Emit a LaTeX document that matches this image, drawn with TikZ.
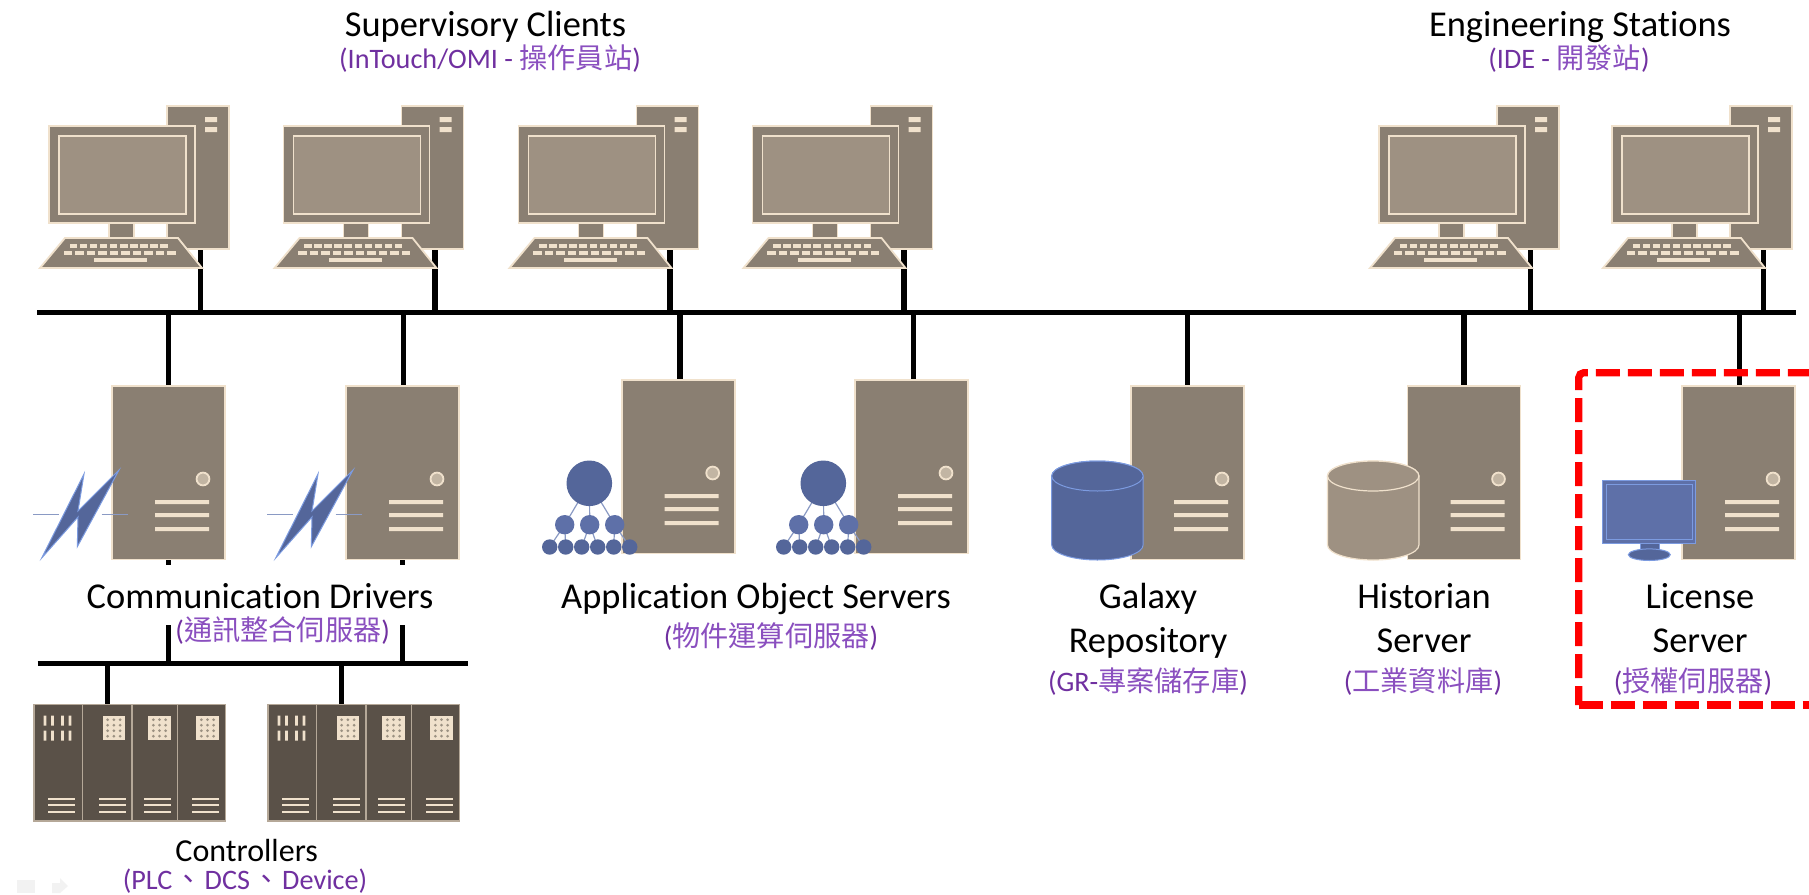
\documentclass[tikz,border=0pt]{standalone}
\usepackage{fontspec}
\setmainfont{Carlito}[Ligatures=NoCommon]
\newfontfamily\cjkf{Noto Sans CJK TC}
\usetikzlibrary{backgrounds}
\definecolor{towerc}{HTML}{8A7F72}
\definecolor{screenc}{HTML}{9E9182}
\definecolor{edgec}{HTML}{F0E1CC}
\definecolor{knobc}{HTML}{C2B5A3}
\definecolor{bluec}{HTML}{54669A}
\definecolor{bluemid}{HTML}{5E70A8}
\definecolor{blueedge}{HTML}{7C9BE0}
\definecolor{treeline}{HTML}{8A9AC4}
\definecolor{rackc}{HTML}{5A5148}
\definecolor{rackedge}{HTML}{B5A898}
\definecolor{purp}{HTML}{7030A0}
\definecolor{cjkp}{HTML}{8A4FBF}
\tikzset{
  x=0.5pt,y=-0.5pt,
  wire/.style={line width=2.6pt,black},
  towerbox/.style={draw=edgec,fill=towerc,line width=0.9pt,inner sep=0,outer sep=0,anchor=north west},
  screenbox/.style={draw=edgec,fill=screenc,line width=0.9pt,inner sep=0,outer sep=0,anchor=north west},
  slat/.style={fill=edgec,draw=none},
  rackmod/.style={draw=rackedge,fill=rackc,line width=0.6pt,inner sep=0,outer sep=0,anchor=north west},
  lbl/.style={font=\fontsize{18.2}{22}\selectfont,anchor=base,inner sep=0,text=black},
  lblsmall/.style={font=\fontsize{16}{19}\selectfont,anchor=base,inner sep=0,text=black},
  sub/.style={font=\fontsize{14.1}{17}\selectfont,anchor=base,inner sep=0,text=purp},
  blueshape/.style={fill=bluec,draw=blueedge,line width=0.5pt},
  tanshape/.style={fill=screenc,draw=edgec,line width=0.6pt},
  redbox/.style={red,line width=3.6pt,rounded corners=2.5pt},
}
\newcommand{\cjk}[1]{\textcolor{cjkp}{\cjkf #1}}
% computer: name, horizontal offset
\newcommand{\computer}[2]{%
  \begin{scope}[shift={(#2,0)}]
    \node[towerbox,minimum width=31pt,minimum height=71.5pt] (#1) at (167,106) {};
    \fill[slat] (205,117) rectangle (217,122) (205,127) rectangle (217,132);
    \fill[towerc,draw=edgec,line width=0.9pt] (109,223) rectangle (134,238);
    \node[towerbox,minimum width=73pt,minimum height=48.5pt] (#1mon) at (49,126) {};
    \node[screenbox,minimum width=63.5pt,minimum height=39pt] (#1scr) at (59,136) {};
    \draw[fill=towerc,draw=edgec,line width=0.9pt] (65,238) -- (178,238) -- (202,268) -- (40,268) -- cycle;
    \foreach \i in {0,...,9} {
      \fill[slat] ({69.5+10.1*\i},243.5) rectangle +(7.5,4.5);
      \fill[slat] ({63.5+11.5*\i},251) rectangle +(8.5,4);
    }
    \fill[slat] (94,258) rectangle (147,262);
  \end{scope}}
% server: name, left, top
\newcommand{\server}[3]{%
  \node[towerbox,minimum width=56.5pt,minimum height=86.75pt] (#1) at (#2,#3) {};
  \begin{scope}[shift={(#2,#3)}]
    \fill[knobc,draw=edgec,line width=0.9pt] (91,93) circle[radius=3.2pt];
    \fill[slat] (43,114) rectangle (97,118) (43,127) rectangle (97,131) (43,141) rectangle (97,145);
  \end{scope}}
% rack: name, left
\newcommand{\rack}[2]{%
  \node[rackmod,minimum width=24.4pt,minimum height=58.3pt] (#1a) at (#2,704.3) {};
  \node[rackmod,minimum width=24.6pt,minimum height=58.3pt] (#1b) at (#2+48.8,704.3) {};
  \node[rackmod,minimum width=22.8pt,minimum height=58.3pt] (#1c) at (#2+98,704.3) {};
  \node[rackmod,minimum width=24pt,minimum height=58.3pt] (#1d) at (#2+143.7,704.3) {};
  \begin{scope}[shift={(#2,0)}]
    \foreach \bx in {9.5,17,27,34.5}
      \fill[slat] (\bx,715.7) rectangle +(2.8,10) (\bx,730.7) rectangle +(2.8,10);
    \foreach \gx in {68.7,114.3,162.3} {
      \fill[edgec] (\gx,715.7) rectangle +(22.3,24.7);
      \foreach \ci in {0,1,2} \foreach \cj in {0,1,2,3}
        \fill[knobc!80!black] ({\gx+5+6.2*\ci},{719.7+5.5*\cj}) circle[radius=0.75pt];
    }
    \foreach \lx in {14.3,65.3,110.3,158.3} {
      \fill[slat] (\lx,798) rectangle +(26.5,2);
      \fill[slat] (\lx,804.2) rectangle +(26.5,2);
      \fill[slat] (\lx,810.5) rectangle +(26.5,2);
    }
  \end{scope}}
% lightning: left offset
\newcommand{\bolt}[1]{%
  \begin{scope}[shift={(#1,0)}]
    \draw[treeline,line width=0.6pt] (33.3,514.3) -- (59.3,514.3) (101.7,514.3) -- (127.7,514.3);
    \draw[blueshape] (41.7,558) -- (84,474) -- (78,511) -- (119,470) -- (77.3,546.7) -- (78,517) -- cycle;
  \end{scope}}
% object tree: left offset
\newcommand{\objtree}[1]{%
  \begin{scope}[shift={(#1,0)}]
    \draw[treeline,line width=0.6pt]
      (589.5,483) -- (564.7,524.7) (589.5,483) -- (589.7,524.7) (589.5,483) -- (614.7,524.7)
      (564.7,524.7) -- (549.7,547) (564.7,524.7) -- (565.7,547)
      (589.7,524.7) -- (581.7,547) (589.7,524.7) -- (597.7,547)
      (614.7,524.7) -- (613.7,547) (614.7,524.7) -- (629.7,547);
    \fill[bluec] (589.3,483.3) circle[radius=11.4pt];
    \foreach \mx in {564.7,589.7,614.7} \fill[bluemid] (\mx,524.7) circle[radius=4.85pt];
    \foreach \sx in {549.7,565.7,581.7,597.7,613.7,629.7} \fill[bluec] (\sx,547) circle[radius=3.85pt];
  \end{scope}}
% cylinder: left, style
\newcommand{\cylinder}[2]{%
  \draw[#2] (#1,476) -- (#1,545) arc[start angle=180,end angle=360,x radius=22.85pt,y radius=7.5pt] -- (#1+91.4,476) arc[start angle=0,end angle=180,x radius=22.85pt,y radius=7.5pt] -- cycle;
  \draw[#2] (#1+45.7,476) ellipse[x radius=22.85pt,y radius=7.5pt];}
\begin{document}
\begin{tikzpicture}
\useasboundingbox (0,0) rectangle (1809,894);

% servers
\server{s1}{112}{386}
\server{s2}{346}{386}
\server{s3}{621.7}{380}
\server{s4}{855}{380}
\server{s5}{1131}{386}
\server{s6}{1407.5}{386}
\server{s7}{1682}{386}

% computers
\computer{c1}{0}
\computer{c2}{234.5}
\computer{c3}{469.5}
\computer{c4}{703.5}
\computer{c5}{1330}
\computer{c6}{1563}

% racks
\rack{r1}{34}
\rack{r2}{268}

% bus coordinates and connectors, behind everything
\coordinate (busA) at (37,312.2);
\coordinate (busB) at (1796,312.2);
\coordinate (busC) at (37.7,663.3);
\coordinate (busD) at (467.7,663.3);
\begin{pgfonlayer}{background}
  \fill[white] (0,0) rectangle (1809,894);
  \draw[wire] (busA) -- (busB);
  \draw[wire] (busC) -- (busD);
  \foreach \n in {c1,c2,c3,c4,c5,c6}
    \draw[wire] ([xshift=1.2pt]\n.south) -- ([xshift=1.2pt]\n.south |- busA);
  \foreach \n/\d in {s1/0pt,s2/0.3pt,s3/0.85pt,s4/1.1pt,s5/0pt,s6/0pt,s7/0.3pt}
    \draw[wire] ([xshift=\d]\n.north) -- ([xshift=\d]\n.north |- busA);
  \draw[wire] (s1.south) -- (s1.south |- busC);
  \draw[wire] (s2.south) -- (s2.south |- busC);
  \draw[wire] (r1b.north) -- (r1b.north |- busC);
  \draw[wire] (r2b.north) -- (r2b.north |- busC);
\end{pgfonlayer}
\fill[white] (85,565) rectangle (440,625);

% icons beside servers
\bolt{0}
\bolt{234}
\objtree{0}
\objtree{234}
\cylinder{1051.7}{blueshape}
\cylinder{1327.5}{tanshape}
% monitor of the license server
\fill[bluec,draw=blueedge,line width=0.4pt] (1640,543) rectangle (1659,552);
\draw[blueshape] (1649.3,554.7) ellipse[x radius=10.5pt,y radius=2.9pt];
\draw[fill=bluemid,draw=blueedge,line width=0.5pt] (1602.7,480) rectangle (1695.7,543);
\draw[draw=blueedge,line width=0.5pt] (1606.7,484) rectangle (1692,539.3);

% texts
\node[lbl] (t1) at (485.5,36) {Supervisory Clients};
\node[sub] (t1b) at (490,68) {(InTouch/OMI - \cjk{操作員站})};
\node[lbl] (t2) at (1580,36) {Engineering Stations};
\node[sub] (t2b) at (1569,68) {(IDE - \cjk{開發站})};
\node[lbl] (t3) at (260,608) {Communication Drivers};
\node[sub] (t3b) at (282.7,640.5) {(\cjk{通訊整合伺服器})};
\node[lbl] (t4) at (756,608) {Application Object Servers};
\node[sub] (t4b) at (771,646) {(\cjk{物件運算伺服器})};
\node[lbl] (t5) at (1148,608) {Galaxy};
\node[lbl] (t5a) at (1148,652) {Repository};
\node[sub] (t5b) at (1148,691) {(GR-\cjk{專案儲存庫})};
\node[lbl] (t6) at (1424,608) {Historian};
\node[lbl] (t6a) at (1424,652) {Server};
\node[sub] (t6b) at (1423,691) {(\cjk{工業資料庫})};
\node[lbl] (t7) at (1700,608) {License};
\node[lbl] (t7a) at (1700,652) {Server};
\node[sub] (t7b) at (1693,691) {(\cjk{授權伺服器})};
\node[lblsmall] (t8) at (246.7,861.5) {Controllers};
\node[sub] (t8b) at (245,889) {(PLC\hspace{1pt}{\cjkf 、}\hspace{1pt}DCS\hspace{1pt}{\cjkf 、}\hspace{1pt}Device)};

% dashed red frame
\begin{scope}
\clip (0,0) rectangle (1809,894);
\draw[redbox,dash pattern=on 12pt off 4pt,dash phase=2.5pt] (1578.7,705) -- (1578.7,372.7) -- (1815,372.7);
\draw[redbox,dash pattern=on 12pt off 4pt] (1578.7,705) -- (1815,705);
\end{scope}

% faint slide controls
\fill[black!5] (17,880) rectangle (35,893);
\fill[black!5] (52,883) -- (60,883) -- (60,878) -- (68,886) -- (60,893) -- (52,893) -- cycle;
\end{tikzpicture}
\end{document}
